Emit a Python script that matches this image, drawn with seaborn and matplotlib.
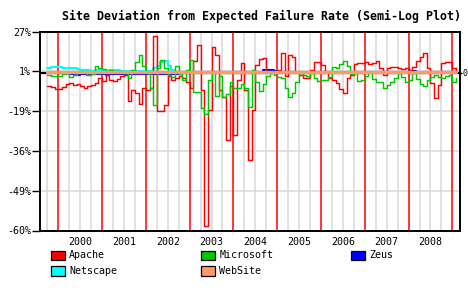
import numpy as np
import pandas as pd
import matplotlib
matplotlib.use("Agg")
import matplotlib.pyplot as plt
import seaborn as sns
from matplotlib.patches import Rectangle

# ---------------- data (log-ratio deviation from expected failure rate) ----------------
start_year = 1999.75          # first monthly sample (Oct 1999)
n_months = 113

apache = [-0.077, -0.086, -0.097, -0.092, -0.083, -0.066, -0.060, -0.071, -0.068, -0.077,
          -0.089, -0.077, -0.071, -0.060, -0.031, -0.048, -0.013, -0.042, -0.048, -0.039,
          -0.019, -0.012, -0.164, -0.100, -0.118, -0.182, -0.089, -0.100, -0.089, 0.213,
          -0.222, -0.222, -0.187, -0.019, -0.042, -0.031, -0.019, -0.031, -0.054, -0.089,
          0.068, 0.161, -0.100, -0.889, -0.216, 0.149, 0.103, -0.100, -0.141, -0.390,
          -0.077, -0.361, -0.042, 0.056, -0.100, -0.506, -0.216, 0.045, 0.079, 0.085,
          0.004, 0.004, 0.004, 0.016, 0.114, -0.019, 0.103, 0.091, 0.004, -0.013,
          -0.031, -0.031, 0.016, 0.062, 0.062, 0.045, 0.004, -0.031, -0.042, -0.060,
          -0.095, -0.118, -0.031, -0.013, 0.050, 0.056, 0.056, 0.062, 0.050, 0.056,
          0.068, 0.027, -0.013, 0.027, 0.035, 0.033, 0.027, 0.021, 0.027, 0.016,
          0.033, 0.068, 0.091, 0.114, 0.027, -0.060, -0.147, -0.071, 0.056, 0.062,
          0.062, 0.027, 0.004]

microsoft = [-0.012, -0.019, -0.019, -0.019, -0.008, -0.002, -0.025, -0.013, 0.010, 0.010,
             0.010, -0.012, -0.008, 0.039, 0.027, 0.021, 0.012, 0.016, 0.010, 0.010,
             0.010, -0.002, -0.031, 0.016, 0.062, 0.103, 0.039, -0.002, -0.089, -0.187,
             0.027, 0.074, 0.027, -0.013, -0.025, 0.039, -0.008, -0.042, 0.016, 0.074,
             -0.112, -0.112, -0.205, -0.240, -0.042, 0.004, -0.135, -0.019, -0.141, -0.124,
             -0.054, -0.089, -0.089, -0.066, -0.089, -0.199, 0.016, -0.054, -0.106, -0.066,
             -0.019, -0.002, -0.013, -0.025, -0.031, -0.089, -0.141, -0.118, -0.054, -0.002,
             -0.013, -0.019, -0.002, -0.031, -0.048, -0.042, -0.042, -0.025, 0.033, 0.027,
             0.050, 0.068, 0.039, -0.008, -0.002, -0.048, -0.042, -0.019, -0.002, -0.037,
             -0.054, -0.054, -0.089, -0.071, -0.054, -0.031, -0.002, -0.025, -0.054, -0.042,
             -0.002, -0.037, -0.066, -0.077, -0.042, -0.025, -0.013, -0.025, -0.031, -0.019,
             -0.013, -0.054, -0.031]

zeus = [0.000, 0.000, 0.001, 0.000, -0.002, -0.004, -0.006, -0.010, -0.011, -0.010,
        -0.010, -0.011, -0.010, -0.010, -0.009, -0.010, -0.011, -0.010, -0.010, -0.009,
        -0.010, -0.010, -0.007, -0.006, -0.006, -0.005, -0.006, -0.007, -0.008, -0.008,
        -0.007, -0.008, -0.008, -0.007, -0.006, -0.005, -0.004, -0.003, -0.002, -0.002,
        0.000, 0.001, 0.000, 0.001, 0.002, 0.001, 0.000, 0.001, 0.002, 0.001,
        0.000, 0.001, 0.002, 0.001, 0.002, 0.001, 0.002, 0.003, 0.004, 0.015,
        0.016, 0.015, 0.012, 0.003, 0.002, 0.002, 0.001, 0.002, 0.003, 0.002,
        0.001, 0.002, 0.002, 0.003, 0.002, 0.001, 0.002, 0.002, 0.001, 0.002,
        0.003, 0.002, 0.002, 0.001, 0.002, 0.002, 0.003, 0.002, 0.001, 0.002,
        0.002, 0.003, 0.002, 0.001, 0.002, 0.002, 0.003, 0.002, 0.004, 0.012,
        0.012, 0.004, 0.002, 0.002, 0.001, 0.002, 0.003, 0.002, 0.002, 0.001,
        0.002, 0.002, 0.002]

netscape = [0.030, 0.031, 0.032, 0.031, 0.030, 0.029, 0.030, 0.028, 0.021, 0.014,
            0.013, 0.013, 0.012, 0.013, 0.014, 0.013, 0.012, 0.013, 0.014, 0.013,
            0.012, 0.010, 0.010, 0.009, 0.010, 0.011, 0.010, 0.009, 0.010, 0.027,
            0.039, 0.062, 0.068, 0.039, 0.016, 0.006, 0.004, 0.003, 0.004, 0.002,
            0.001, -0.002, -0.003, -0.002, 0.001, 0.003, 0.004, 0.003, 0.004, 0.003,
            0.002, 0.003, 0.004, 0.003, 0.002, 0.003, 0.004, 0.003, 0.003, 0.002,
            0.003, 0.004, 0.003, 0.002, 0.003, 0.004, 0.003, 0.002, 0.003, 0.004,
            0.003, 0.002, 0.003, 0.004, 0.003, 0.002, 0.003, 0.004, 0.003, 0.002,
            0.003, 0.004, 0.003, 0.002, 0.003, 0.004, 0.003, 0.002, 0.003, 0.004,
            0.003, 0.002, 0.003, 0.004, 0.003, 0.002, 0.003, 0.004, 0.003, 0.002,
            0.003, 0.004, 0.003, 0.002, 0.003, 0.004, 0.003, 0.002, 0.003, 0.004,
            0.003, 0.002, 0.003]

website = [0.004, 0.005, 0.005, 0.004, 0.005, 0.006, 0.005, 0.004, 0.005, 0.005,
           0.006, 0.005, 0.004, 0.005, 0.005, 0.004, 0.005, 0.006, 0.005, 0.004,
           0.005, 0.005, 0.004, 0.005, 0.005, 0.004, 0.005, 0.005, 0.004, 0.004,
           0.005, 0.004, 0.004, 0.005, 0.004, 0.004, 0.005, 0.004, 0.004, 0.005,
           0.004, 0.003, 0.004, 0.004, 0.003, 0.004, 0.004, 0.003, 0.004, 0.004,
           0.003, 0.004, 0.004, 0.003, 0.004, 0.004, 0.003, 0.004, 0.004, 0.003,
           0.004, 0.004, 0.003, 0.004, 0.004, 0.003, 0.004, 0.004, 0.003, 0.004,
           0.004, 0.003, 0.004, 0.004, 0.003, 0.004, 0.004, 0.003, 0.004, 0.004,
           0.003, 0.004, 0.004, 0.003, 0.004, 0.004, 0.003, 0.004, 0.004, 0.003,
           0.004, 0.004, 0.003, 0.004, 0.004, 0.003, 0.004, 0.004, 0.003, 0.004,
           0.004, 0.003, 0.004, 0.004, 0.003, 0.004, 0.004, 0.003, 0.004, 0.004,
           0.003, 0.004, 0.004]

series_names = ["Apache", "Microsoft", "Zeus", "Netscape", "WebSite"]
series_values = [apache, microsoft, zeus, netscape, website]
series_colors = ["#ff0000", "#00c800", "#0000ff", "#00ffff", "#ff9966"]

year_labels = ["2000", "2001", "2002", "2003", "2004", "2005", "2006", "2007", "2008"]
ytick_labels = ["27%", "1%", "-19%", "-36%", "-49%", "-60%"]
y_top_ratio, y_bottom_ratio = 1.27, 0.40
title = "Site Deviation from Expected Failure Rate (Semi-Log Plot)"

# ---------------- figure ----------------
sns.set_theme(style="white")
plt.rcParams["font.family"] = ["DejaVu Sans Mono", "DejaVu Sans"]

W, H = 468, 300
fig = plt.figure(figsize=(W / 100, H / 100), dpi=100)
ax = fig.add_axes([40 / W, 1 - 230.5 / H, 420 / W, 199 / H])

months = start_year + np.arange(n_months) / 12.0
df = pd.DataFrame({"t": np.tile(months, len(series_names)),
                   "dev": np.concatenate(series_values),
                   "site": np.repeat(series_names, n_months)})

ymax, ymin = np.log(y_top_ratio), np.log(y_bottom_ratio)
ax.set_ylim(ymin, ymax)
ax.set_xlim(1999.582, 2009.175)

# grid: quarterly gray verticals, yearly red verticals, horizontal gray at ticks
years = np.array([int(y) for y in year_labels])
for q in np.arange(1999.75, 2009.01, 0.25):
    if abs(q - round(q)) > 1e-6:
        ax.axvline(q, color="#d8d8d8", lw=1.1, zorder=1)
for yb in list(years) + [years[-1] + 1]:
    ax.axvline(yb, color="#ff0000", lw=1.1, zorder=1.5)
yticks = np.linspace(ymax, ymin, len(ytick_labels))
for yt in yticks[1:-1]:
    ax.axhline(yt, color="#d8d8d8", lw=1.1, zorder=1)

ax.axhline(0, color="black", lw=1.6, zorder=2)

widths = {"Apache": 1.05, "Microsoft": 1.05, "Zeus": 1.5, "Netscape": 1.5, "WebSite": 2.4}
zorders = {"Apache": 4, "Microsoft": 4, "Zeus": 3, "Netscape": 3, "WebSite": 5}
for name, col in zip(series_names, series_colors):
    sub = df[df["site"] == name]
    sns.lineplot(data=sub, x="t", y="dev", color=col, linewidth=widths[name],
                 drawstyle="steps-post", estimator=None, ax=ax,
                 zorder=zorders[name], legend=False)

ax.set_xlabel("")
ax.set_ylabel("")
ax.set_yticks(yticks)
ax.set_yticklabels(ytick_labels)
ax.set_xticks(years + 0.5)
ax.set_xticklabels(year_labels)
ax.tick_params(axis="x", length=0, pad=4.5, labelsize=7.2, colors="black")
ax.tick_params(axis="y", left=True, length=5.5, width=1.0, pad=1,
               labelsize=7.2, direction="out", colors="black")
for s in ax.spines.values():
    s.set_visible(True)
    s.set_color("black")
    s.set_linewidth(1.4)

ax2 = ax.twinx()
ax2.set_ylim(ymin, ymax)
ax2.set_yticks([0])
ax2.set_yticklabels(["0"])
ax2.tick_params(axis="y", right=True, length=1.2, width=1.0, pad=0.3,
                labelsize=6.0, direction="out", colors="black")
ax2.grid(False)
for s in ax2.spines.values():
    s.set_visible(False)

fig.text(262 / W, 1 - 16 / H, title, ha="center", va="center",
         fontsize=8.4, fontweight="bold", color="black")

# legend (row-major, three columns)
col_x = [50.7, 200.7, 350.7]
row_y = [255.5, 270.7]
for k, (name, col) in enumerate(zip(series_names, series_colors)):
    r, c = divmod(k, 3)
    bx, by = col_x[c], row_y[r]
    fig.patches.append(Rectangle((bx / W, 1 - (by + 4.8) / H), 14.5 / W, 9.6 / H,
                                 transform=fig.transFigure, facecolor=col,
                                 edgecolor="black", linewidth=0.9))
    fig.text((bx + 18.6) / W, 1 - by / H, name, ha="left", va="center",
             fontsize=7.2, color="black")

fig.savefig("out.png", dpi=100)
